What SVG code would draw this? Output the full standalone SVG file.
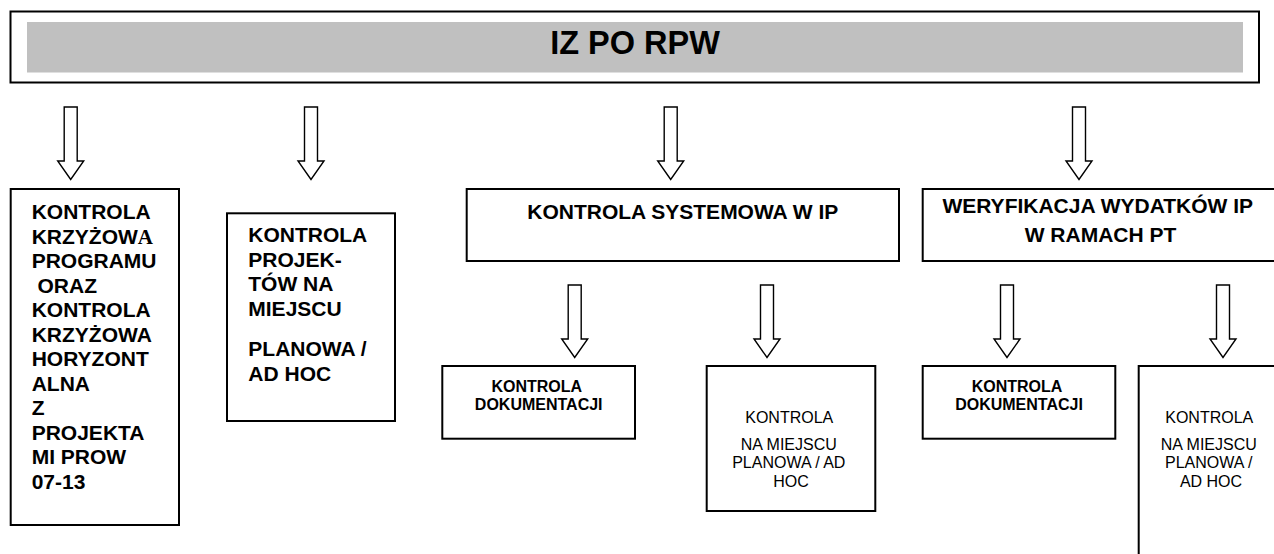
<svg xmlns="http://www.w3.org/2000/svg" xmlns:xlink="http://www.w3.org/1999/xlink" width="1274" height="554" viewBox="0 0 1274 554">
  <style>
    .box { fill: #ffffff; stroke: #000000; stroke-width: 2; }
    .band { fill: #c0c0c0; stroke: none; }
    .arrow { fill: #ffffff; stroke: #000000; stroke-width: 1.4; stroke-linejoin: miter; }
    .t { font-family: "Liberation Sans", Arial, sans-serif; fill: #000000; }
    .b21 { font-size: 21px; font-weight: bold; }
    .b16 { font-size: 16px; font-weight: bold; }
    .r16 { font-size: 16px; font-weight: normal; }
    .title { font-size: 32.5px; font-weight: bold; }
    .mid { text-anchor: middle; }
    .serifA { font-family: "Liberation Serif", "Times New Roman", serif; }
  </style>
  <defs>
    <!-- hollow block arrow pointing down, origin at top centre of the shaft -->
    <path id="downArrow" class="arrow" d="M -6.5 0 L 6.5 0 L 6.5 54 L 13 54 L 0 72.5 L -13 54 L -6.5 54 Z"/>
  </defs>

  <rect width="1274" height="554" fill="#ffffff"/>

  <!-- header -->
  <g id="header">
    <rect class="box" x="10.5" y="11.5" width="1248.5" height="71"/>
    <rect class="band" x="27" y="22" width="1216" height="50.5"/>
    <text class="t title mid" x="635" y="53.5">IZ PO RPW</text>
  </g>

  <!-- connectors -->
  <g id="connectors">
    <use xlink:href="#downArrow" x="70.7" y="107"/>
    <use xlink:href="#downArrow" x="311" y="107"/>
    <use xlink:href="#downArrow" x="670.7" y="107"/>
    <use xlink:href="#downArrow" x="1079" y="107"/>
    <use xlink:href="#downArrow" x="574.7" y="285"/>
    <use xlink:href="#downArrow" x="767" y="285"/>
    <use xlink:href="#downArrow" x="1007" y="285"/>
    <use xlink:href="#downArrow" x="1223" y="285"/>
  </g>

  <!-- cross control of programme and horizontal cross control -->
  <g id="node-kontrola-krzyzowa">
    <rect class="box" x="10.7" y="189" width="168.3" height="336"/>
    <text class="t b21" x="31.7">
      <tspan x="31.7" y="219">KONTROLA</tspan>
      <tspan x="31.7" y="243.5">KRZYŻOW<tspan class="serifA">A</tspan></tspan>
      <tspan x="31.7" y="268">PROGRAMU</tspan>
      <tspan x="37.5" y="292.5">ORAZ</tspan>
      <tspan x="31.7" y="317">KONTROLA</tspan>
      <tspan x="31.7" y="341.5">KRZYŻOWA</tspan>
      <tspan x="31.7" y="366">HORYZONT</tspan>
      <tspan x="31.7" y="390.5">ALNA</tspan>
      <tspan x="31.7" y="415">Z</tspan>
      <tspan x="31.7" y="439.5">PROJEKTA</tspan>
      <tspan x="31.7" y="464">MI PROW</tspan>
      <tspan x="31.7" y="488.5">07-13</tspan>
    </text>
  </g>

  <!-- on-site project control -->
  <g id="node-kontrola-projektow">
    <rect class="box" x="227" y="213.3" width="168" height="207.7"/>
    <text class="t b21">
      <tspan x="248.3" y="242.3">KONTROLA</tspan>
      <tspan x="248.3" y="266.7">PROJEK-</tspan>
      <tspan x="248.3" y="291">TÓW NA</tspan>
      <tspan x="248.3" y="315.5">MIEJSCU</tspan>
      <tspan x="248.3" y="356">PLANOWA /</tspan>
      <tspan x="248.3" y="380.5">AD HOC</tspan>
    </text>
  </g>

  <!-- system control -->
  <g id="node-kontrola-systemowa">
    <rect class="box" x="466.7" y="189" width="432.3" height="72"/>
    <text class="t b21 mid" x="682.8" y="219">KONTROLA SYSTEMOWA W IP</text>
  </g>

  <!-- expenditure verification -->
  <g id="node-weryfikacja">
    <rect class="box" x="922.7" y="189" width="360" height="72"/>
    <text class="t b21 mid">
      <tspan x="1100.5" y="213.3">WERYFIKACJA WYDATKÓW IP</tspan>
      <tspan x="1100.5" y="241.7">W RAMACH PT</tspan>
    </text>
  </g>

  <!-- documentation check under system control -->
  <g id="node-dokumentacja-1">
    <rect class="box" x="442.3" y="366" width="192.7" height="72.7"/>
    <text class="t b16 mid">
      <tspan x="538.7" y="392.3">KONTROLA</tspan>
      <tspan x="538.7" y="410">DOKUMENTACJI</tspan>
    </text>
  </g>

  <!-- on-site check under system control -->
  <g id="node-na-miejscu-1">
    <rect class="box" x="706.7" y="366" width="168.6" height="145"/>
    <text class="t r16 mid">
      <tspan x="791" y="423.3">KONTROLA</tspan>
      <tspan x="791" y="450">NA MIEJSCU</tspan>
      <tspan x="791" y="468.3">PLANOWA / AD</tspan>
      <tspan x="791" y="486.7">HOC</tspan>
    </text>
  </g>

  <!-- documentation check under expenditure verification -->
  <g id="node-dokumentacja-2">
    <rect class="box" x="922.7" y="366" width="192.6" height="72.7"/>
    <text class="t b16 mid">
      <tspan x="1019" y="392.3">KONTROLA</tspan>
      <tspan x="1019" y="410">DOKUMENTACJI</tspan>
    </text>
  </g>

  <!-- on-site check under expenditure verification -->
  <g id="node-na-miejscu-2">
    <rect class="box" x="1138.7" y="366" width="146" height="200"/>
    <text class="t r16 mid">
      <tspan x="1211" y="423.3">KONTROLA</tspan>
      <tspan x="1211" y="450">NA MIEJSCU</tspan>
      <tspan x="1211" y="468.3">PLANOWA /</tspan>
      <tspan x="1211" y="486.7">AD HOC</tspan>
    </text>
  </g>
</svg>
